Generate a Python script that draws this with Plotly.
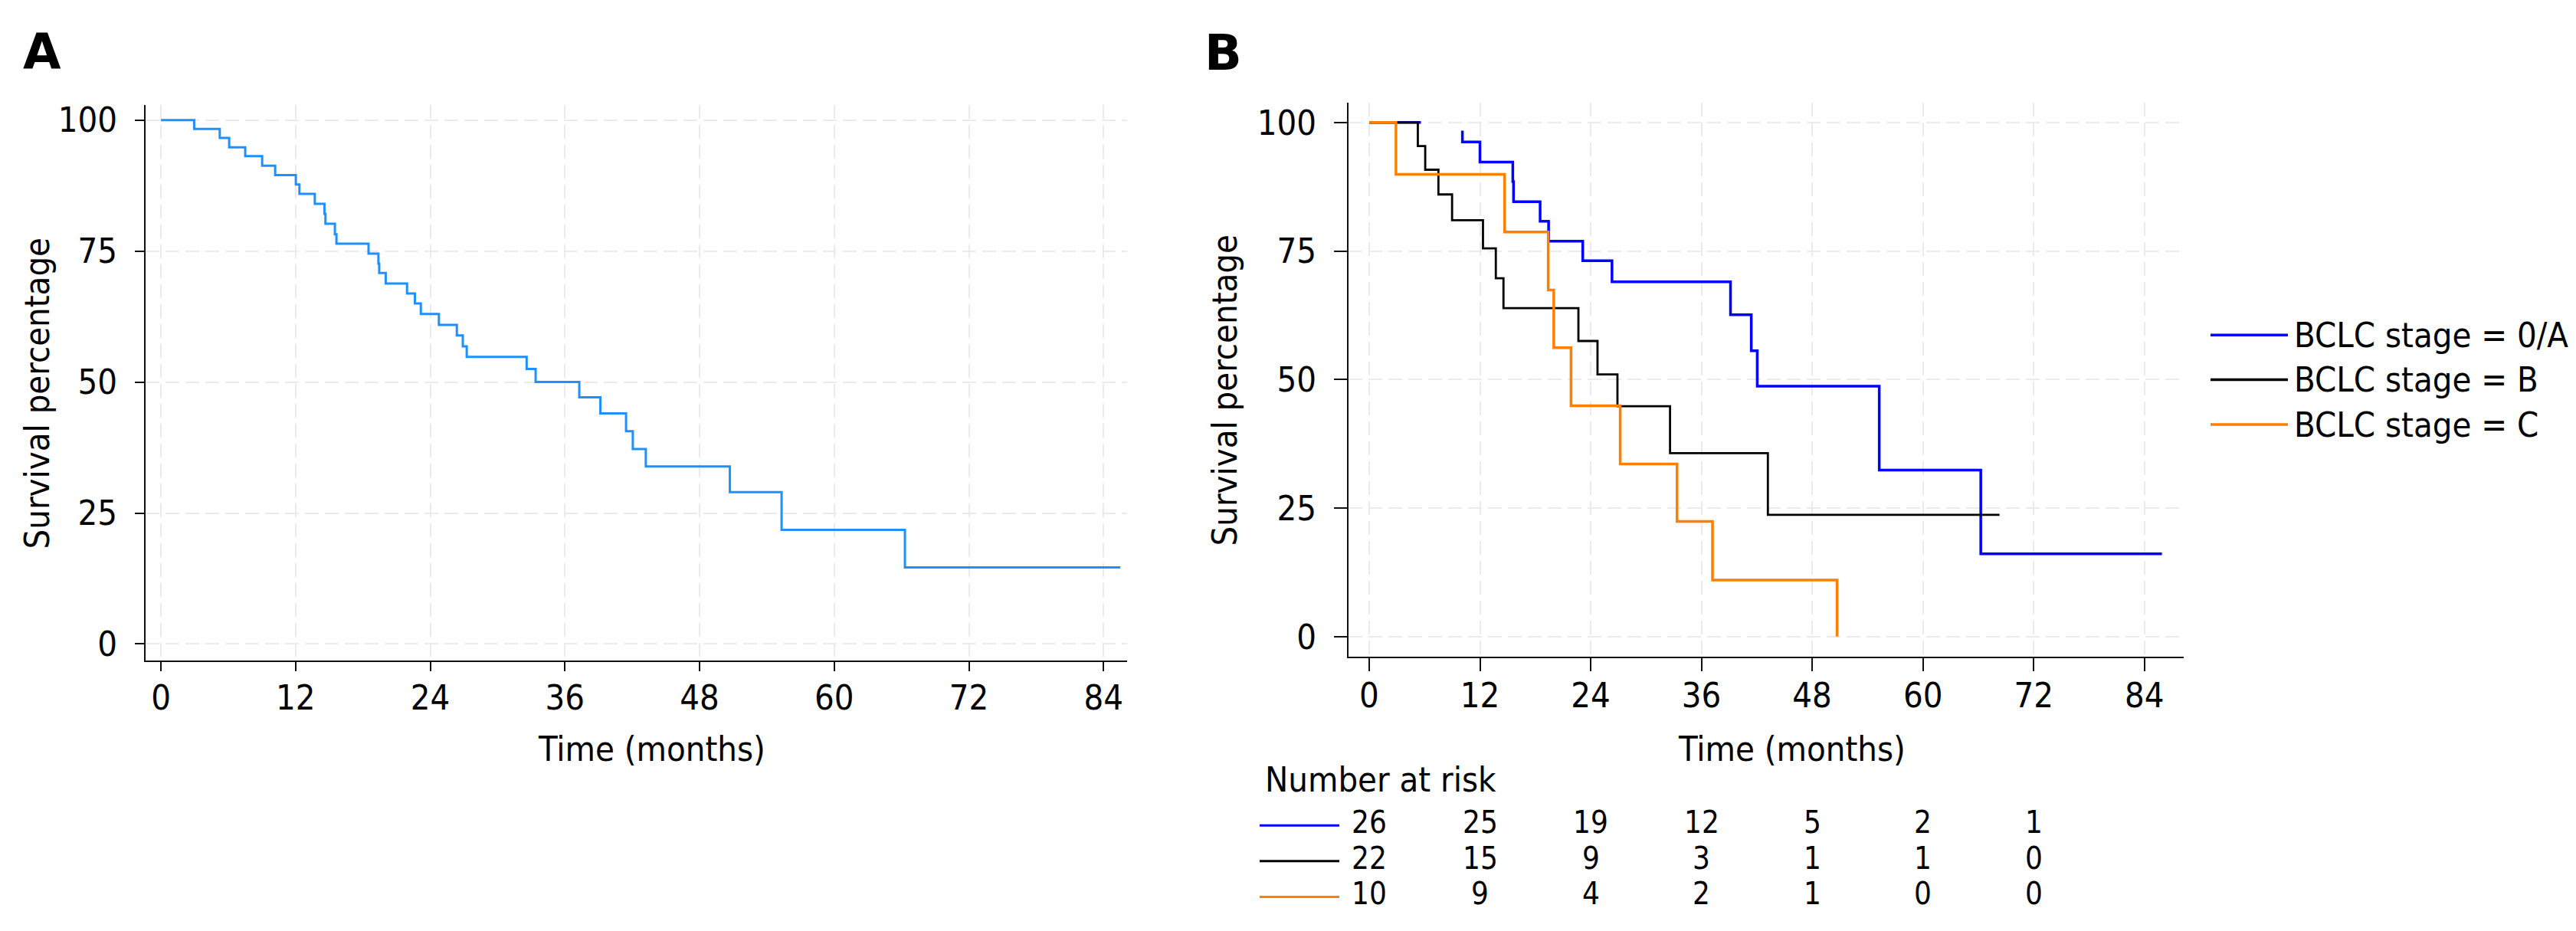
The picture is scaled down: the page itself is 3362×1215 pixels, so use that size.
import plotly.graph_objects as go

W, H = 3362, 1215
FONT = "DejaVu Sans Condensed"

# panel A - all patients (step times in months, survival % after each step)
a_time = [0, 2.96, 5.24, 6.08, 7.51, 9.02, 10.18, 12.02, 12.34, 13.71, 14.57, 14.66,
          15.50, 15.64, 18.50, 19.38, 19.45, 20.03, 21.93, 22.63, 23.16, 24.77, 26.37,
          26.90, 27.25, 32.59, 33.39, 37.28, 39.16, 41.45, 42.05, 43.21, 50.70, 55.31,
          66.30, 85.5]
a_surv = [100, 98.3, 96.6, 94.8, 93.1, 91.3, 89.5, 87.7, 85.9, 84.0, 82.1, 80.2,
          78.2, 76.4, 74.5, 72.6, 70.8, 68.8, 66.9, 65.0, 63.0, 60.9, 58.9,
          56.8, 54.8, 52.5, 50.0, 47.1, 44.0, 40.6, 37.2, 33.9, 29.0, 21.8,
          14.6, 14.6]

# panel B - by BCLC stage
stage_0a_time = [0, 5.6, None, 10.1, 10.1, 12.0, 15.56, 15.64, 18.52, 19.44, 23.14, 26.31,
                 39.15, 41.4, 42.05, 55.27, 66.27, 85.9]
stage_0a_surv = [100, 100, None, 98.4, 96.2, 92.3, 88.5, 84.6, 80.8, 76.9, 73.1, 69.0,
                 62.6, 55.6, 48.7, 32.4, 16.1, 16.1]
stage_b_time = [0, 5.27, 6.07, 7.5, 8.98, 12.33, 13.72, 14.55, 22.67, 24.74, 26.9, 32.6, 43.2, 68.3]
stage_b_surv = [100, 95.4, 90.8, 86.0, 81.0, 75.5, 69.7, 63.9, 57.5, 51.0, 44.8, 35.7, 23.7, 23.7]
stage_c_time = [0, 2.9, 14.67, 19.4, 20.0, 21.87, 27.2, 33.36, 37.2, 50.7]
stage_c_surv = [100, 89.9, 78.7, 67.4, 56.2, 44.9, 33.6, 22.4, 11.0, 0]

stage_names = ["BCLC stage = 0/A", "BCLC stage = B", "BCLC stage = C"]
stage_colors = ["#0000FF", "#000000", "#FF7F00"]

# number at risk
risk_times = [0, 12, 24, 36, 48, 60, 72]
risk_0a = [26, 25, 19, 12, 5, 2, 1]
risk_b = [22, 15, 9, 3, 1, 1, 0]
risk_c = [10, 9, 4, 2, 1, 0, 0]

x_ticks = [0, 12, 24, 36, 48, 60, 72, 84]
y_ticks = [0, 25, 50, 75, 100]


def px(x):
    return x / W


def py(y):
    return 1 - y / H


fig = go.Figure()

fig.add_trace(go.Scatter(x=a_time, y=a_surv, mode="lines", line_shape="hv",
                         line=dict(color="#1E90FF", width=3), xaxis="x", yaxis="y",
                         showlegend=False))

series = [(stage_0a_time, stage_0a_surv, 3.5), (stage_b_time, stage_b_surv, 2.8),
          (stage_c_time, stage_c_surv, 3.5)]
for (t, s, lw), name, col in zip(series, stage_names, stage_colors):
    fig.add_trace(go.Scatter(x=t, y=s, mode="lines", line_shape="hv", name=name,
                             line=dict(color=col, width=lw), xaxis="x2", yaxis="y2",
                             connectgaps=False, showlegend=False))

axis_style = dict(showline=True, linecolor="#111", linewidth=2, ticks="outside",
                  tickwidth=2, tickcolor="#111", showgrid=True, gridcolor="#EBEBEB",
                  gridwidth=2, griddash="18px,8px", zeroline=False,
                  tickfont=dict(family=FONT, size=45, color="black"))

fig.update_layout(
    width=W, height=H, margin=dict(l=0, r=0, t=0, b=0),
    paper_bgcolor="white", plot_bgcolor="white",
    xaxis=dict(domain=[px(182), px(1463)], range=[-1.37, 86.1], tickvals=x_ticks,
               anchor="y", ticklen=12, ticklabelstandoff=-4, **axis_style),
    yaxis=dict(domain=[py(856), py(123.7)], range=[-3.19, 102.94], tickvals=y_ticks,
               anchor="x", ticklen=12, ticklabelstandoff=14, **axis_style),
    xaxis2=dict(domain=[px(1752), px(2842)], range=[-2.24, 88.26], tickvals=x_ticks,
                anchor="y2", ticklen=17, ticklabelstandoff=-7, **axis_style),
    yaxis2=dict(domain=[py(851), py(120.7)], range=[-3.94, 103.9], tickvals=y_ticks,
                anchor="x2", ticklen=17, ticklabelstandoff=14, **axis_style),
)

ann = []
txt = dict(family=FONT, size=45, color="black")
ann.append(dict(x=px(47), y=py(54), text="<b>A</b>", font=dict(family="DejaVu Sans", size=64, color="black")))
ann.append(dict(x=px(1588), y=py(56), text="<b>B</b>", font=dict(family="DejaVu Sans", size=64, color="black")))
ann.append(dict(x=px(40), y=py(504), text="Survival percentage", textangle=-90, font=txt))
ann.append(dict(x=px(1590), y=py(500), text="Survival percentage", textangle=-90, font=txt))
ann.append(dict(x=px(842), y=py(972), text="Time (months)", font=txt))
ann.append(dict(x=px(2330), y=py(972), text="Time (months)", font=txt))

# legend (drawn by hand so the key lines match the long strokes)
legend_rows = [427, 486, 545]
for name, col, ly in zip(stage_names, stage_colors, legend_rows):
    ann.append(dict(x=px(2984), y=py(ly), text=name, xanchor="left", font=txt))
    fig.add_shape(type="line", xref="paper", yref="paper", x0=px(2877), x1=px(2978),
                  y0=py(ly), y1=py(ly), line=dict(color=col, width=3.5))

# number at risk table
ann.append(dict(x=px(1641), y=py(1013), text="Number at risk", xanchor="left", font=txt))
risk_font = dict(family=FONT, size=40, color="black")
risk_rows = [1069, 1116, 1163]
for counts, col, ry in zip([risk_0a, risk_b, risk_c], stage_colors, risk_rows):
    fig.add_shape(type="line", xref="paper", yref="paper", x0=px(1636), x1=px(1740),
                  y0=py(ry + 4), y1=py(ry + 4), line=dict(color=col, width=3))
    for t, n in zip(risk_times, counts):
        ann.append(dict(x=t, xref="x2", y=py(ry), text=str(n), font=risk_font))

for a in ann:
    a.setdefault("xref", "paper")
    a.setdefault("yref", "paper")
    a.setdefault("xanchor", "center")
    a.setdefault("yanchor", "middle")
    a["showarrow"] = False
fig.update_layout(annotations=ann)

fig.write_html("out.html")
